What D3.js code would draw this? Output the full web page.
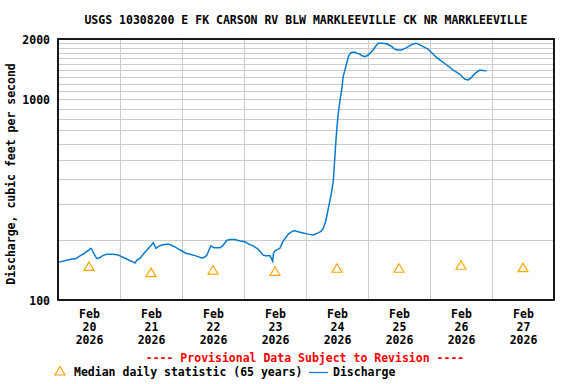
<!DOCTYPE html>
<html>
<head>
<meta charset="utf-8">
<script src="https://cdn.jsdelivr.net/npm/d3@7"></script>
<style>
  body { margin: 0; background: #fff; }
  svg { display: block; }
  text { font-family: "DejaVu Sans Mono", "Liberation Mono", monospace; font-weight: bold; font-size: 11.5px; fill: #000; }
</style>
</head>
<body>
<div id="chart"></div>
<script>
// Station
const title = 'USGS 10308200 E FK CARSON RV BLW MARKLEEVILLE CK NR MARKLEEVILLE';
const yLabel = 'Discharge, cubic feet per second';

// Discharge, hours after Feb 20 2026 00:00, and cfs
const dischargeHours = [
  0, 4.5, 7, 8.5, 10, 11, 12, 12.5, 13, 13.5, 14.5, 15, 16, 17.5, 19, 21, 23,
  24, 26.6, 27.9, 29, 29.8, 30.6, 31.7, 33, 35, 36, 36.9, 37.9, 39, 40.1, 42.7, 44.1, 45.3, 46.5, 47.9,
  49.5, 51.1, 53.4, 55.6, 56.5, 57.6, 58.5, 59.2, 60.4, 62.7, 63.9, 65.3, 66.6, 68.5, 70.5,
  72.4, 73.9, 75.6, 77.5, 78.6, 79.5, 80.5, 82.1, 83.1, 83.4, 84, 85.9, 86.7, 87.2, 88.3, 89.2, 90.2, 91.5, 92.9, 94.9,
  96.8, 98.8, 100.7, 101.8, 102.7, 103.4, 104, 104.6, 105.3, 106, 106.6, 107.6, 108.4, 109.2,
  109.8, 110.4, 111.4, 112.4, 113, 113.7, 115, 115.9, 116.9, 117.8, 118.8, 120.1,
  121, 122, 123.1, 124, 125.3, 126.4, 127.5, 129.2, 130.1, 131.1, 133, 133.9, 135, 136.9, 138.6, 139.7, 140.8, 142.1, 143.3,
  145.3, 146.5, 147.9, 150.5, 153, 155.6, 157.5, 158.8, 160.1, 161.4, 163.3, 164.5, 165.9
];
const dischargeCfs = [
  154, 159, 161, 166, 170, 174, 177, 181, 180, 174, 165, 161, 162, 167, 169, 169, 168,
  166, 160, 157, 155, 153, 158, 161, 169, 181, 187, 193, 181, 185, 188, 190, 187, 184, 180, 176,
  171, 169, 166, 162, 163, 167, 178, 186, 182, 182, 187, 198, 200, 200, 197,
  195, 190, 186, 179, 172, 167, 166, 166, 156, 171, 176, 181, 191, 197, 206, 213, 218, 222, 219, 216,
  213, 211, 216, 220, 228, 242, 260, 285, 315, 352, 396, 628, 836, 995,
  1114, 1298, 1455, 1632, 1690, 1716, 1716, 1695, 1678, 1650, 1632, 1664,
  1710, 1763, 1850, 1904, 1904, 1900, 1888, 1831, 1790, 1763, 1763, 1785, 1812, 1875, 1904, 1880, 1848, 1810, 1775,
  1680, 1620, 1571, 1484, 1401, 1334, 1259, 1250, 1288, 1349, 1401, 1395, 1383
];

// Median daily statistic (65 years), one per day at noon
const medianDays = [20, 21, 22, 23, 24, 25, 26, 27];
const medianCfs = [147, 137, 141, 139, 144, 144, 149, 145];

const yTicks = [100, 1000, 2000];
const yGrid = [200, 300, 400, 500, 600, 700, 800, 900, 1000, 1100, 1200, 1300, 1400, 1500, 1600, 1700, 1800, 1900];

const width = 576, height = 384;
const margin = { top: 39, right: 22, bottom: 84, left: 58 };
const innerW = width - margin.left - margin.right;
const innerH = height - margin.top - margin.bottom;

const start = new Date(Date.UTC(2026, 1, 20));
const end = new Date(Date.UTC(2026, 1, 28));
const hourDate = h => new Date(start.getTime() + h * 3600e3);

const x = d3.scaleUtc().domain([start, end]).range([margin.left, margin.left + innerW]);
const y = d3.scaleLog().domain([100, 2000]).range([margin.top + innerH, margin.top]);

const svg = d3.select('#chart').append('svg')
  .attr('width', width)
  .attr('height', height);

// Title
svg.append('text')
  .attr('x', 306).attr('y', 24)
  .attr('text-anchor', 'middle')
  .text(title);

// Grid
const grid = svg.append('g').attr('stroke', '#cccccc').attr('stroke-width', 1);
grid.selectAll('line.h')
  .data(yGrid)
  .join('line')
  .attr('class', 'h')
  .attr('x1', margin.left).attr('x2', margin.left + innerW)
  .attr('y1', d => Math.round(y(d)) + 0.5).attr('y2', d => Math.round(y(d)) + 0.5);
grid.selectAll('line.v')
  .data(d3.utcDay.range(d3.utcDay.offset(start, 1), end))
  .join('line')
  .attr('class', 'v')
  .attr('x1', d => Math.round(x(d)) + 0.5).attr('x2', d => Math.round(x(d)) + 0.5)
  .attr('y1', margin.top).attr('y2', margin.top + innerH);

// Discharge line
const series = dischargeHours.map((h, i) => ({ t: hourDate(h), v: dischargeCfs[i] }));
const line = d3.line().x(d => x(d.t)).y(d => y(d.v));
svg.append('path')
  .datum(series)
  .attr('fill', 'none')
  .attr('stroke', '#0a7acc')
  .attr('stroke-width', 1.5)
  .attr('d', line);

// Median triangles
const tri = 'M0,-4.5 L5,4 L-5,4 Z';
svg.append('g').selectAll('path')
  .data(medianDays.map((d, i) => ({ t: new Date(Date.UTC(2026, 1, d, 12)), v: medianCfs[i] })))
  .join('path')
  .attr('transform', d => `translate(${x(d.t)},${y(d.v)})`)
  .attr('d', tri)
  .attr('fill', 'none')
  .attr('stroke', '#ffa500')
  .attr('stroke-width', 1.2);

// Frame
svg.append('rect')
  .attr('x', margin.left).attr('y', margin.top)
  .attr('width', innerW).attr('height', innerH)
  .attr('fill', 'none')
  .attr('stroke', '#000')
  .attr('stroke-width', 1.8);

// Y axis
const yAxis = svg.append('g')
  .attr('transform', `translate(${margin.left - 8},0)`)
  .call(d3.axisLeft(y).tickValues(yTicks).tickSize(0).tickPadding(0).tickFormat(d3.format('d')));
yAxis.select('.domain').remove();
yAxis.selectAll('text')
  .attr('font-family', null).attr('font-size', null)
  .attr('dy', '0.35em');

svg.append('text')
  .attr('transform', `translate(15,${174}) rotate(-90)`)
  .attr('text-anchor', 'middle')
  .text(yLabel);

// X axis: three-line date labels at noon
const noonTicks = medianDays.map(d => new Date(Date.UTC(2026, 1, d, 12)));
const xAxis = svg.append('g')
  .attr('transform', `translate(0,${margin.top + innerH})`)
  .call(d3.axisBottom(x).tickValues(noonTicks).tickSize(0).tickFormat(''));
xAxis.select('.domain').remove();
xAxis.selectAll('.tick text').remove();
const fmt = [d3.utcFormat('%b'), d3.utcFormat('%-d'), d3.utcFormat('%Y')];
xAxis.selectAll('.tick').each(function (d) {
  const t = d3.select(this).append('text').attr('text-anchor', 'middle');
  fmt.forEach((f, i) => t.append('tspan').attr('x', 0).attr('y', 18 + i * 13).text(f(d)));
});

// Provisional note
svg.append('text')
  .attr('x', 305).attr('y', 362)
  .attr('text-anchor', 'middle')
  .style('fill', '#ff0000')
  .text('---- Provisional Data Subject to Revision ----');

// Legend
const legend = svg.append('g');
legend.append('path')
  .attr('transform', 'translate(60,371)')
  .attr('d', tri)
  .attr('fill', 'none')
  .attr('stroke', '#ffa500')
  .attr('stroke-width', 1.2);
legend.append('text').attr('x', 74).attr('y', 376).text('Median daily statistic (65 years)');
legend.append('line')
  .attr('x1', 309).attr('x2', 328)
  .attr('y1', 372.5).attr('y2', 372.5)
  .attr('stroke', '#0a7acc').attr('stroke-width', 1.2);
legend.append('text').attr('x', 333).attr('y', 376).text('Discharge');
</script>
</body>
</html>
